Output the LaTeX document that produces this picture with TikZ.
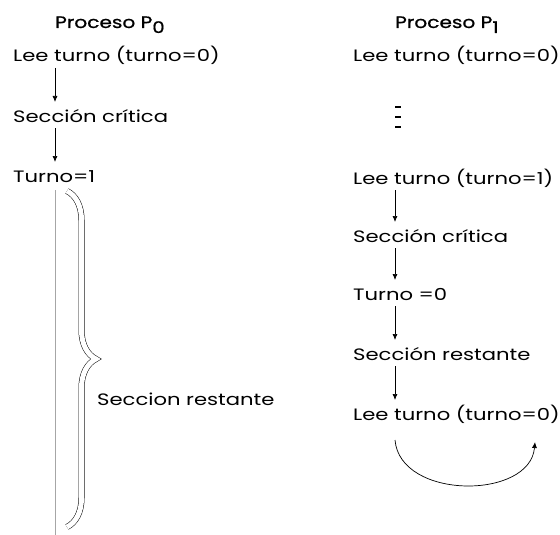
\documentclass[tikz,border=0pt]{standalone}
\usepackage{fontspec}
\setmainfont{Poppins}
\newfontfamily\wideface[FakeStretch=1.28]{Poppins}
\newfontfamily\wideheadface[FakeStretch=1.22,FakeBold=0.8]{Poppins}
\usetikzlibrary{decorations.pathreplacing,arrows.meta,calc}
\newcommand{\subidx}[1]{\raisebox{-5pt}{\fontsize{16}{18}\selectfont #1}}
\begin{document}
\begin{tikzpicture}[x=1pt,y=-1pt,
  lbl/.style={anchor=base west,inner sep=0pt,font=\wideface\fontsize{16.5}{19}\selectfont},
  head/.style={anchor=base west,inner sep=0pt,font=\wideheadface\fontsize{16.5}{19}\selectfont},
  flow/.style={-{Latex[length=6pt,width=5pt]},line width=0.7pt},
  dotmark/.style={line width=2pt}]
\useasboundingbox[fill=white] (0,0) rectangle (560,535);

% process P0
\node[head] (h0) at (55,28) {Proceso P\subidx{0}};
\node[lbl] (a1) at (13,62) {Lee turno (turno=0)};
\node[lbl] (a2) at (13,122) {Sección crítica};
\node[lbl] (a3) at (13,182) {Turno=1};
\node[lbl] (ar) at (97,405) {Seccion restante};
\draw[flow] ($(a1.base west)+(42,6)$) -- ($(a2.base west)+(42,-20)$);
\draw[flow] ($(a2.base west)+(42,6)$) -- ($(a3.base west)+(42,-20)$);
\draw[gray!70,line width=1pt] ($(a3.base west)+(42,8)$) -- (55,535);
\draw[decorate,decoration={brace,amplitude=29pt,aspect=0.5},
      double=white,double distance=5pt,line width=0.5pt] (67,191) -- (67,527);

% process P1
\node[head] (h1) at (395,28) {Proceso P\subidx{1}};
\node[lbl] (b0) at (353,62) {Lee turno (turno=0)};
\draw[dotmark] (395,107) -- (401,107);
\draw[dotmark] (395,117) -- (401,117);
\draw[dotmark] (395,127) -- (401,127);
\node[lbl] (b1) at (353,184) {Lee turno (turno=1)};
\node[lbl] (b2) at (353,242) {Sección crítica};
\node[lbl] (b3) at (353,300) {Turno =0};
\node[lbl] (b4) at (353,360) {Sección restante};
\node[lbl] (b5) at (353,420) {Lee turno (turno=0)};
\draw[flow] ($(b1.base west)+(42,6)$) -- ($(b2.base west)+(42,-20)$);
\draw[flow] ($(b2.base west)+(42,6)$) -- ($(b3.base west)+(42,-20)$);
\draw[flow] ($(b3.base west)+(42,6)$) -- ($(b4.base west)+(42,-20)$);
\draw[flow] ($(b4.base west)+(42,6)$) -- ($(b5.base west)+(42,-20)$);
\draw[flow] ($(b5.base west)+(42,20)$) .. controls ($(b5.base west)+(47,80)$) and ($(b5.base west)+(177,80)$) .. ($(b5.base west)+(182,22)$);
\end{tikzpicture}
\end{document}
